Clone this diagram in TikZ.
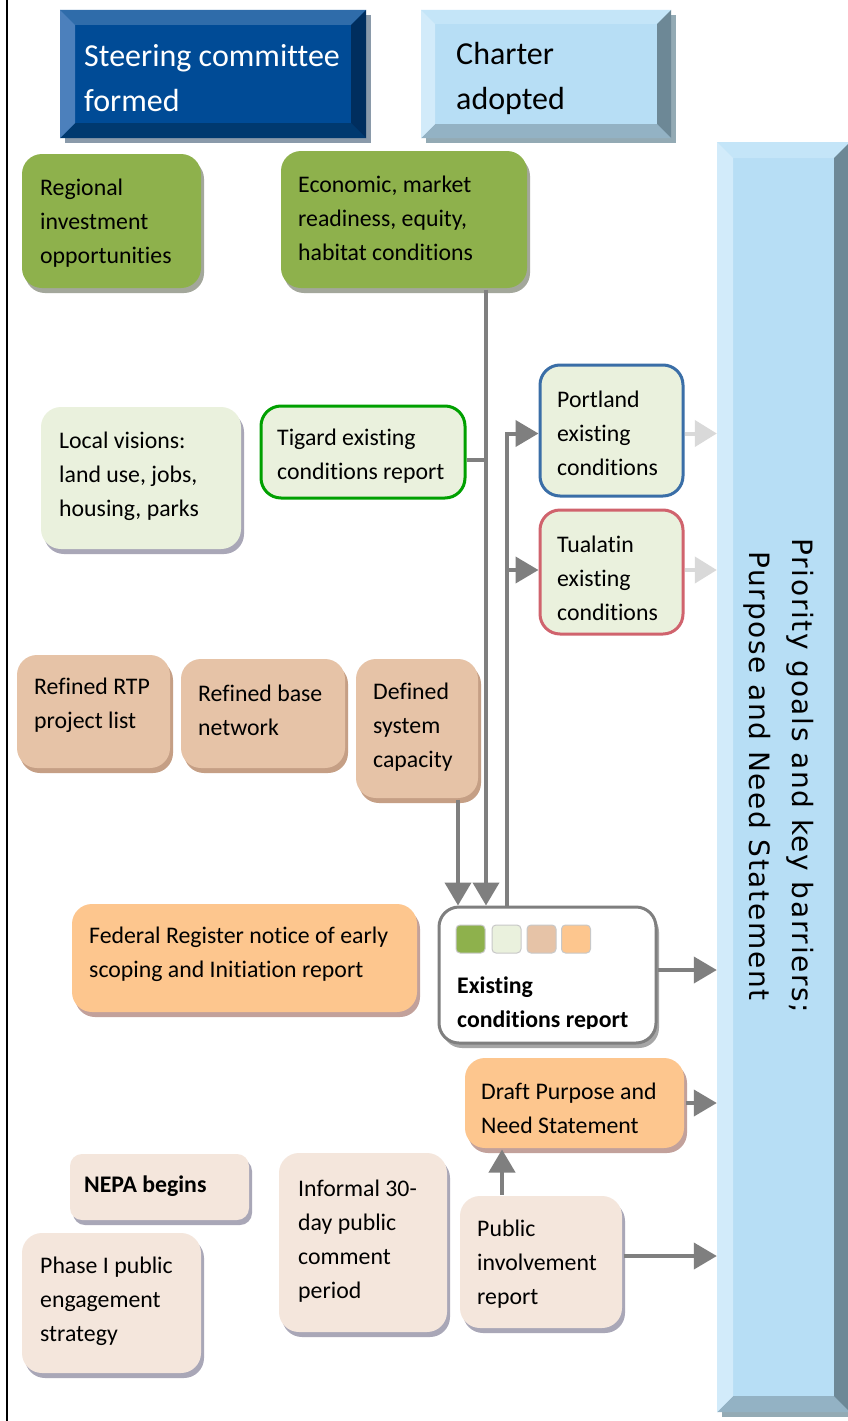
\documentclass[tikz,border=0pt]{standalone}
\usepackage{fontspec}
\setmainfont[Ligatures={NoCommon}]{Carlito}
\newfontfamily\barfont[LetterSpace=6]{DejaVu Sans}
\usetikzlibrary{arrows.meta,shadows}

% fills
\definecolor{grn}{HTML}{8EB14C}
\definecolor{lgrn}{HTML}{EAF1DD}
\definecolor{tan}{HTML}{E6C3A7}
\definecolor{peach}{HTML}{FDC68E}
\definecolor{blush}{HTML}{F4E6DC}
% shadows
\definecolor{shgrn}{HTML}{A3A79B}
\definecolor{shlt}{HTML}{A9A7B7}
\definecolor{shtan}{HTML}{C59F85}
\definecolor{shpeach}{HTML}{C2A19B}
\definecolor{shgray}{HTML}{A6A6A6}
% connectors
\definecolor{conn}{HTML}{7F7F7F}
\definecolor{fade}{HTML}{D9D9D9}
% outlines
\definecolor{tigline}{HTML}{00A000}
\definecolor{porline}{HTML}{3A6EA7}
\definecolor{tualine}{HTML}{D0636D}
\definecolor{sqline}{HTML}{C8C8C8}
% dark bevel set
\definecolor{dkface}{HTML}{004B96}
\definecolor{dktop}{HTML}{2F6CAA}
\definecolor{dkleft}{HTML}{4C80BC}
\definecolor{dkright}{HTML}{002E5E}
\definecolor{dkbottom}{HTML}{00396F}
\definecolor{dkshadow}{HTML}{8A9AAA}
% light bevel set
\definecolor{ltface}{HTML}{B7DEF5}
\definecolor{lttop}{HTML}{C4E5F8}
\definecolor{ltleft}{HTML}{D2EBFA}
\definecolor{ltright}{HTML}{6D8896}
\definecolor{ltbottom}{HTML}{93B2C4}
\definecolor{ltshadow}{HTML}{93AAB4}

% bevelled slab: x1, y1, x2, y2, bevel width, colour set
\newcommand\bevelslab[6]{%
  \fill[#6shadow] (#1+5,#2+5) rectangle (#3+5,#4+5);
  \fill[#6face] (#1,#2) rectangle (#3,#4);
  \fill[#6top] (#1,#2) -- (#3,#2) -- (#3-#5,#2+#5) -- (#1+#5,#2+#5) -- cycle;
  \fill[#6bottom] (#1,#4) -- (#3,#4) -- (#3-#5,#4-#5) -- (#1+#5,#4-#5) -- cycle;
  \fill[#6left] (#1,#2) -- (#1+#5,#2+#5) -- (#1+#5,#4-#5) -- (#1,#4) -- cycle;
  \fill[#6right] (#3,#2) -- (#3-#5,#2+#5) -- (#3-#5,#4-#5) -- (#3,#4) -- cycle;
}

\begin{document}
\begin{tikzpicture}[x=1pt,y=-1pt,
  rbox/.style={rounded corners=20pt, inner sep=0pt, line width=3pt},
  shade/.style={drop shadow={shadow xshift=3pt, shadow yshift=-5pt, fill=#1, opacity=1}},
  txt/.style={anchor=west, align=left, inner sep=0pt, yshift=-2pt, font=\fontsize{23.8}{34}\selectfont},
  bigtxt/.style={anchor=west, align=left, inner sep=0pt, yshift=-1pt, font=\fontsize{32}{45}\selectfont},
  sq/.style={draw=sqline, line width=1pt, rounded corners=4pt, minimum width=29pt, minimum height=28pt, inner sep=0pt},
  link/.style={draw=conn, line width=4pt, -{Triangle[length=23pt,width=26pt]}},
  plain/.style={draw=conn, line width=4pt},
  faint/.style={draw=fade, line width=4pt, -{Triangle[length=22pt,width=26pt]}}]

\path[fill=white, use as bounding box] (0,0) rectangle (847,1421);
\draw[line width=2pt] (7,-2) -- (7,1423);

% ---- bevelled headers and the goals bar ----
\bevelslab{60}{10}{366}{138}{15}{dk}
\node[inner sep=0pt, minimum width=276pt, minimum height=98pt] (steer) at (213,74) {};
\node[bigtxt, text=white] (steer-t) at (84,77.5) {Steering committee\\formed};

\bevelslab{421}{10}{671}{138}{14}{lt}
\node[inner sep=0pt, minimum width=222pt, minimum height=100pt] (charter) at (546,74) {};
\node[bigtxt] (charter-t) at (456,77.5) {Charter\\adopted};

\bevelslab{717}{142}{850}{1412}{16}{lt}
\node[inner sep=0pt, minimum width=133pt, minimum height=1270pt] (bar) at (783.5,777) {};
\node[rotate=-90, align=center, inner sep=0pt, font=\barfont\fontsize{28}{43}\selectfont] (bar-t) at (778.5,776)
  {Priority goals and key barriers;\\Purpose and Need Statement};

% ---- green row ----
\node[rbox, fill=grn, shade=shgrn, minimum width=179pt, minimum height=134pt] (regional) at (111.5,221) {};
\node[txt] (regional-t) at (40,221) {Regional\\investment\\opportunities};
\node[rbox, fill=grn, shade=shgrn, minimum width=246pt, minimum height=137pt] (econ) at (404,219.5) {};
\node[txt] (econ-t) at (298,216.5) {Economic, market\\readiness, equity,\\habitat conditions};

% ---- local conditions ----
\node[rbox, fill=lgrn, shade=shlt, minimum width=200pt, minimum height=142pt] (local) at (141,478) {};
\node[txt] (local-t) at (59,474.5) {Local visions:\\land use, jobs,\\housing, parks};
\node[rbox, fill=lgrn, draw=tigline, minimum width=204pt, minimum height=92pt] (tigard) at (363,452) {};
\node[txt] (tigard-t) at (277,454.5) {Tigard existing\\conditions report};
\node[rbox, fill=lgrn, draw=porline, minimum width=143pt, minimum height=131pt] (portland) at (611.5,430.5) {};
\node[txt] (portland-t) at (557,431.5) {Portland\\existing\\conditions};
\node[rbox, fill=lgrn, draw=tualine, minimum width=143pt, minimum height=124pt] (tualatin) at (611.5,572) {};
\node[txt] (tualatin-t) at (557,576) {Tualatin\\existing\\conditions};

% ---- network row ----
\node[rbox, fill=tan, shade=shtan, minimum width=153pt, minimum height=113pt] (rtp) at (93.5,711.5) {};
\node[txt] (rtp-t) at (34,703.5) {Refined RTP\\project list};
\node[rbox, fill=tan, shade=shtan, minimum width=164pt, minimum height=109pt] (basenet) at (263,713.5) {};
\node[txt] (basenet-t) at (198,708) {Refined base\\network};
\node[rbox, fill=tan, shade=shtan, minimum width=122pt, minimum height=139pt] (capacity) at (417,728.5) {};
\node[txt] (capacity-t) at (373,725) {Defined\\system\\capacity};

% ---- report and notice ----
\node[rbox, fill=peach, shade=shpeach, minimum width=345pt, minimum height=108pt] (federal) at (244.5,958) {};
\node[txt] (federal-t) at (89,952.5) {Federal Register notice of early\\scoping and Initiation report};

\node[rbox, fill=white, draw=conn, shade=shgray, minimum width=217pt, minimum height=136pt] (ecr) at (547.5,975) {};
\node[sq, fill=grn] (sq1) at (470.5,939) {};
\node[sq, fill=lgrn] (sq2) at (506.5,939) {};
\node[sq, fill=tan] (sq3) at (541.5,939) {};
\node[sq, fill=peach] (sq4) at (576,939) {};
\begin{scope}
  \clip (445,960) rectangle (650,1028);
  \node[txt, font=\fontsize{23.8}{34}\selectfont\bfseries] (ecr-t) at (457,1002.5) {Existing\\conditions report};
\end{scope}

\node[rbox, fill=peach, shade=shpeach, minimum width=219pt, minimum height=90pt] (draft) at (574.5,1103) {};
\node[txt] (draft-t) at (481,1106) {Draft Purpose and\\Need Statement};

% ---- public engagement ----
\node[rbox, fill=blush, shade=shlt, rounded corners=12pt, minimum width=179pt, minimum height=66pt] (nepa) at (159.5,1187) {};
\node[txt, font=\fontsize{23.8}{34}\selectfont\bfseries] (nepa-t) at (84,1184) {NEPA begins};
\node[rbox, fill=blush, shade=shlt, minimum width=179pt, minimum height=140pt] (phase) at (111.5,1303) {};
\node[txt] (phase-t) at (40,1299.5) {Phase I public\\engagement\\strategy};
\node[rbox, fill=blush, shade=shlt, minimum width=168pt, minimum height=179pt] (informal) at (363,1242.5) {};
\node[txt] (informal-t) at (298,1238.75) {Informal 30-\\day public\\comment\\period};
\node[rbox, fill=blush, shade=shlt, minimum width=162pt, minimum height=132pt] (pir) at (541,1262) {};
\node[txt] (pir-t) at (477,1262.5) {Public\\involvement\\report};

% ---- connectors ----
\coordinate (tapA) at (486,0);
\coordinate (tapB) at (458,0);
\coordinate (tapC) at (507,0);
\coordinate (tapD) at (502,0);

\draw[plain] ([yshift=-8pt]tigard.east) -- ([yshift=-8pt]tigard.east -| tapA);
\draw[link] (econ.south -| tapA) -- (ecr.north -| tapA);
\draw[link] (capacity.south -| tapB) -- (ecr.north -| tapB);
\draw[link] (ecr.north -| tapC) |- ([yshift=-3pt]portland.west);
\draw[link] ([yshift=2pt]tualatin.west -| tapC) -- ([yshift=2pt]tualatin.west);

\draw[faint] ([yshift=-3pt]portland.east) -- ([yshift=-3pt]portland.east -| bar.west);
\draw[faint] ([yshift=2pt]tualatin.east) -- ([yshift=2pt]tualatin.east -| bar.west);

\draw[link] ([yshift=5pt]ecr.east) -- ([yshift=5pt]ecr.east -| bar.west);
\draw[link] (draft.east) -- (draft.east -| bar.west);
\draw[link] (pir.north -| tapD) -- (draft.south -| tapD);
\draw[link] ([yshift=6pt]pir.east) -- ([yshift=6pt]pir.east -| bar.west);

\end{tikzpicture}
\end{document}
